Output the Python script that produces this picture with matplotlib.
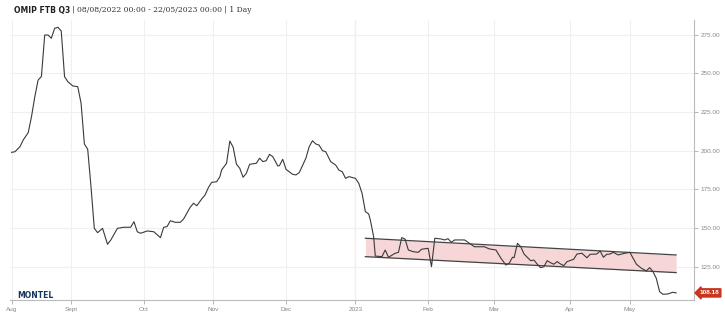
"""OMIP FTB Q3 daily price, 08/08/2022 - 22/05/2023, with a downward trend channel."""

import matplotlib

matplotlib.use("Agg")
import matplotlib.pyplot as plt
import numpy as np
from matplotlib.transforms import offset_copy

START = "2022-08-08"
HOLIDAYS = ["2022-12-26", "2023-04-07", "2023-04-10"]

# price path, x = trading days since 08/08/2022
trading_day = [
    0, 1, 2.5, 3.5, 5, 6, 7, 8, 9, 10, 11, 12, 13, 14, 15, 16, 17, 18.5, 20, 21,
    22, 23, 24, 25, 26, 27.5, 29, 30, 32, 34, 36, 37, 38, 39, 41, 43, 45, 46, 47, 48,
    49.5, 51, 52, 54, 55, 56, 57.5, 58.5, 59.5, 60.5, 62, 63, 63.5, 65, 66, 67, 68, 69, 70, 71,
    72, 74, 75, 76, 77, 78, 79, 80.5, 81, 82, 83, 85, 86, 87, 89, 90, 91, 92, 93, 94,
    95, 96.5, 98, 99, 100, 101, 102, 104, 105, 106, 107, 108, 108.5, 109.5, 110, 112, 113, 114, 116, 117,
    118, 119, 120, 121.5, 123, 124, 126, 127, 128, 130, 131, 132, 133, 134, 137, 138.5, 140, 143, 144.5, 146.5,
    148, 149.5, 150.5, 151.5, 152, 153, 154, 155, 157, 158, 159, 160, 161, 162, 163, 164, 165, 166, 167, 168,
    170, 171, 172.5, 174, 175, 177, 178, 179, 180, 181, 182, 183.5, 184.5, 185.5, 187, 188, 189, 190.5, 192, 193,
    194, 195, 196, 197, 198.5, 200, 201,
]
price = [
    199.0, 199.4, 202.6, 207.0, 211.7, 222.0, 234.9, 245.7, 248.0, 274.8, 274.8, 272.7, 279.1, 279.8, 277.4, 247.9, 244.6, 241.9, 241.4, 230.7,
    204.4, 201.0, 176.8, 149.9, 147.1, 149.9, 139.6, 142.4, 149.9, 150.6, 150.6, 154.2, 147.7, 146.7, 148.2, 147.7, 143.9, 150.6, 151.0, 154.8,
    153.8, 153.8, 155.9, 163.5, 166.1, 164.5, 168.9, 171.4, 176.2, 179.6, 180.0, 183.3, 187.6, 191.9, 206.3, 202.3, 191.3, 188.7, 182.9, 185.5,
    191.3, 191.9, 195.2, 193.0, 193.6, 197.7, 196.2, 190.2, 190.4, 194.5, 188.0, 184.8, 184.4, 185.9, 195.2, 202.6, 206.5, 204.4, 203.7, 200.1,
    199.4, 193.0, 190.8, 187.5, 186.5, 182.2, 183.3, 182.2, 179.0, 172.5, 160.7, 159.2, 155.3, 144.5, 132.0, 131.6, 135.9, 131.2, 133.8, 134.4,
    143.9, 143.0, 135.9, 134.8, 134.4, 136.4, 137.0, 125.1, 143.5, 143.0, 142.4, 143.2, 140.9, 142.4, 142.4, 140.2, 138.0, 138.0, 136.6, 135.9,
    130.6, 126.2, 127.3, 131.2, 131.0, 140.2, 138.0, 133.3, 129.0, 129.4, 126.7, 124.5, 125.1, 129.0, 127.7, 126.7, 128.4, 126.9, 125.8, 128.4,
    129.9, 133.3, 133.8, 130.9, 133.1, 133.3, 135.3, 131.2, 133.1, 133.3, 134.4, 132.7, 133.3, 133.8, 134.4, 130.6, 126.7, 124.1, 122.4, 124.5,
    121.9, 117.6, 109.0, 107.3, 107.5, 108.6, 108.18,
]

# trend channel drawn on the chart
channel_day = [107, 201]
channel_top = [143.5, 132.7]
channel_bottom = [131.6, 121.3]

month_starts = [
    "2022-08-08", "2022-09-01", "2022-10-03", "2022-11-01", "2022-12-01",
    "2023-01-02", "2023-02-01", "2023-03-01", "2023-04-03", "2023-05-01",
]
month_labels = ["Aug", "Sept", "Oct", "Nov", "Dec", "2023", "Feb", "Mar", "Apr", "May"]
y_ticks = [125, 150, 175, 200, 225, 250, 275]

TICK_COLOR = "#888888"
GRID_COLOR = "#f0f0f0"
SMALL_FONT = "Liberation Sans"


def main() -> None:
    month_pos = np.busday_count(START, month_starts, holidays=HOLIDAYS)

    fig = plt.figure(figsize=(7.25, 3.2), dpi=100)
    ax = fig.add_axes([0.0138, 0.0625, 0.9434, 0.875])

    ax.fill_between(channel_day, channel_bottom, channel_top, color="#f6d6d6", lw=0, zorder=1)
    ax.plot(channel_day, channel_top, color="#444444", lw=0.9, zorder=2)
    ax.plot(channel_day, channel_bottom, color="#444444", lw=0.9, zorder=2)
    ax.plot(trading_day, price, color="#3a3a3a", lw=0.8, zorder=3)

    ax.set_xlim(-0.5, 206.4)
    ax.set_ylim(103.6, 284.5)

    ax.set_xticks(month_pos)
    ax.set_xticklabels(month_labels, family=SMALL_FONT)
    ax.set_yticks(y_ticks)
    ax.set_yticklabels([f"{v:.2f}" for v in y_ticks], family=SMALL_FONT)
    ax.yaxis.tick_right()

    ax.tick_params(axis="both", labelsize=4.6, colors="#aaaaaa", labelcolor=TICK_COLOR,
                   length=3, width=0.6, pad=2)
    ax.grid(True, color=GRID_COLOR, lw=0.8, zorder=0)
    ax.set_axisbelow(True)
    # year boundary is drawn a bit darker
    ax.axvline(month_pos[5], color="#d6d6d6", lw=0.8, zorder=0)

    for side in ("top", "left"):
        ax.spines[side].set_visible(False)
    for side in ("right", "bottom"):
        ax.spines[side].set_color("#bbbbbb")
        ax.spines[side].set_linewidth(0.8)

    # title: bold name, then the serif range text right after it
    name = fig.text(0.019, 0.968, "OMIP FTB Q3", fontsize=5.5, fontweight="bold",
                    color="#222222", va="center", ha="left")
    fig.canvas.draw()
    name_box = name.get_window_extent()
    fig.text(name_box.x1 / fig.bbox.width + 0.003, 0.968,
             "| 08/08/2022 00:00 - 22/05/2023 00:00 | 1 Day", fontsize=5.5,
             family="DejaVu Serif", color="#333333", va="center", ha="left")

    fig.text(0.024, 0.078, "MONTEL", fontsize=5.5, fontweight="bold", color="#17365f",
             va="center", ha="left")

    label_tf = offset_copy(ax.get_yaxis_transform(), fig=fig, x=4, y=0, units="points")
    ax.text(1.0, price[-1], f"{price[-1]:.2f}", transform=label_tf, fontsize=4.6,
            family=SMALL_FONT, fontweight="bold", color="white", va="center", ha="left",
            clip_on=False, bbox=dict(boxstyle="larrow,pad=0.25", fc="#c8361e", ec="#c8361e"))

    fig.savefig("out.png", dpi=100)
    plt.close(fig)


if __name__ == "__main__":
    main()
